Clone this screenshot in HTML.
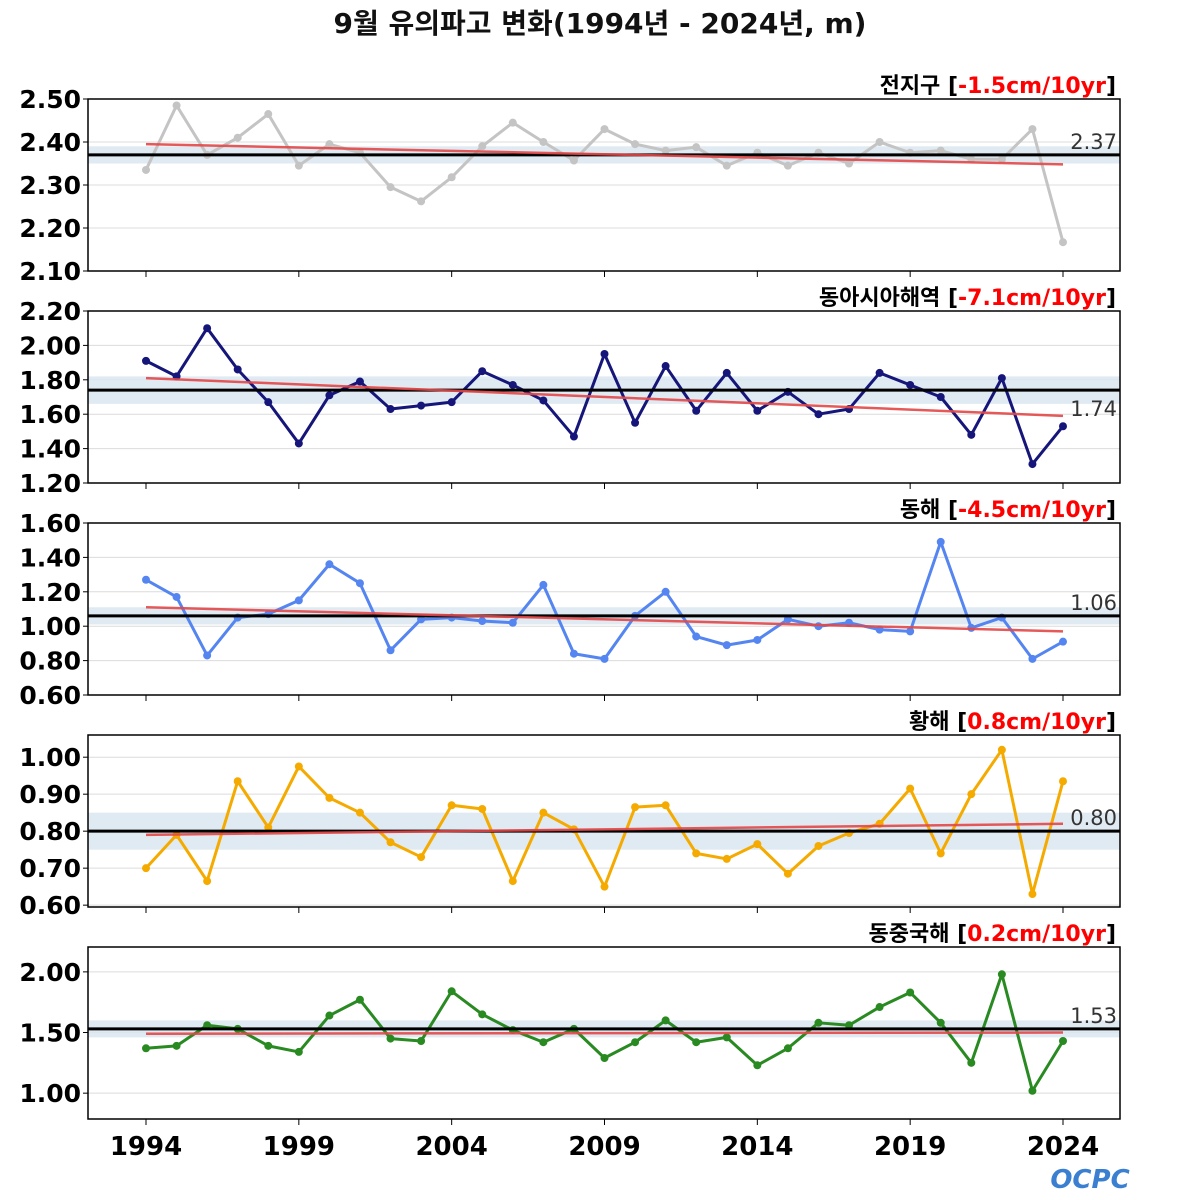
<!DOCTYPE html>
<html><head><meta charset="utf-8">
<style>
html,body{margin:0;padding:0;background:#fff;}
svg{display:block;font-family:"DejaVu Sans","Noto Sans CJK KR",sans-serif;}
</style></head>
<body>
<svg id="chart" width="1200" height="1200" viewBox="0 0 1200 1200">
<text x="600" y="33" text-anchor="middle" font-size="28" font-weight="bold" fill="#111">9월 유의파고 변화(1994년 - 2024년, m)</text>
<g id="panels"></g>
<g>
<text x="1090" y="1188" text-anchor="middle" font-size="26" font-weight="bold" fill="#3a7fd0" font-style="italic">OCPC</text>
</g>
</svg>
<script>
const years = [];
for (let y = 1994; y <= 2024; y++) years.push(y);
const xTickYears = [1994, 1999, 2004, 2009, 2014, 2019, 2024];

const globalValues = [2.335,2.485,2.37,2.41,2.465,2.345,2.395,2.375,2.295,2.262,2.318,2.39,2.445,2.40,2.357,2.43,2.395,2.38,2.388,2.345,2.375,2.345,2.375,2.35,2.40,2.375,2.38,2.36,2.36,2.43,2.167];
const eastAsiaValues = [1.91,1.82,2.10,1.86,1.67,1.43,1.71,1.79,1.63,1.65,1.67,1.85,1.77,1.68,1.47,1.95,1.55,1.88,1.62,1.84,1.62,1.73,1.60,1.63,1.84,1.77,1.70,1.48,1.81,1.31,1.53];
const eastSeaValues = [1.27,1.17,0.83,1.05,1.07,1.15,1.36,1.25,0.86,1.04,1.05,1.03,1.02,1.24,0.84,0.81,1.06,1.20,0.94,0.89,0.92,1.04,1.00,1.02,0.98,0.97,1.49,0.99,1.05,0.81,0.91];
const yellowSeaValues = [0.70,0.79,0.665,0.935,0.81,0.975,0.89,0.85,0.77,0.73,0.87,0.86,0.665,0.85,0.805,0.65,0.865,0.87,0.74,0.725,0.765,0.685,0.76,0.795,0.82,0.915,0.74,0.90,1.02,0.63,0.935];
const ecsValues = [1.37,1.39,1.56,1.53,1.39,1.34,1.64,1.77,1.45,1.43,1.84,1.65,1.52,1.42,1.53,1.29,1.42,1.60,1.42,1.46,1.23,1.37,1.58,1.56,1.71,1.83,1.58,1.25,1.98,1.02,1.43];

const panelNames = ["전지구","동아시아해역","동해","황해","동중국해"];
const panelTrends = ["-1.5cm/10yr","-7.1cm/10yr","-4.5cm/10yr","0.8cm/10yr","0.2cm/10yr"];
const panelMeans = [2.37,1.74,1.06,0.80,1.53];
const meanLabels = ["2.37","1.74","1.06","0.80","1.53"];
const bandHalf = [0.02,0.08,0.05,0.05,0.07];
const trendStart = [2.395,1.81,1.11,0.79,1.49];
const trendEnd = [2.348,1.59,0.97,0.82,1.50];
const yMins = [2.10,1.20,0.60,0.595,0.787];
const yMaxs = [2.50,2.20,1.60,1.06,2.205];
const yTicks0 = [2.10,2.20,2.30,2.40,2.50];
const yTicks1 = [1.20,1.40,1.60,1.80,2.00,2.20];
const yTicks2 = [0.60,0.80,1.00,1.20,1.40,1.60];
const yTicks3 = [0.60,0.70,0.80,0.90,1.00];
const yTicks4 = [1.00,1.50,2.00];

const series = [globalValues,eastAsiaValues,eastSeaValues,yellowSeaValues,ecsValues];
const ticks = [yTicks0,yTicks1,yTicks2,yTicks3,yTicks4];
const colors = ["#c4c4c4","#16167a","#5585f0","#f5aa00","#2a8a22"];
const keys = ["global","east-asia","east-sea","yellow-sea","east-china-sea"];
const labelBelow = [false,true,false,false,false];
const tops = [99,311,523,735,947];
const H = 172, L = 88, R = 1120;
const NS = "http://www.w3.org/2000/svg";
const xScale = yr => 146 + (yr - 1994) * (1063 - 146) / 30;

const root = document.getElementById("panels");
function mk(tag, attrs, parent) {
  const e = document.createElementNS(NS, tag);
  for (const k in attrs) e.setAttribute(k, attrs[k]);
  parent.appendChild(e);
  return e;
}

for (let p = 0; p < 5; p++) {
  const top = tops[p], bot = top + H;
  const yScale = v => bot - (v - yMins[p]) / (yMaxs[p] - yMins[p]) * H;
  const g = mk("g", {}, root);
  
  
  ticks[p].forEach(t => {
    const y = yScale(t);
    const gl = mk("line", {x1:L,x2:R,y1:y,y2:y,stroke:"#dcdcdc","stroke-width":1}, g);
    
    
    mk("line", {x1:L-5,x2:L,y1:y,y2:y,stroke:"#000","stroke-width":1}, g);
    const tx = mk("text", {x:81,y:y+9,"text-anchor":"end","font-size":25,"font-weight":"bold",fill:"#000"}, g);
    tx.textContent = t.toFixed(2);
    
    
  });
  xTickYears.forEach(yr => {
    const x = xScale(yr);
    mk("line", {x1:x,x2:x,y1:bot,y2:bot+6,stroke:"#000","stroke-width":1}, g);
  });
  const band = mk("rect", {x:L,width:R-L,y:yScale(panelMeans[p]+bandHalf[p]),height:yScale(panelMeans[p]-bandHalf[p])-yScale(panelMeans[p]+bandHalf[p]),fill:"#dbe6f0",opacity:0.85}, g);
  
  
  const pts = series[p].map((v,i) => xScale(years[i]) + "," + yScale(v)).join(" ");
  const pl = mk("polyline", {points:pts,fill:"none",stroke:colors[p],"stroke-width":3,"stroke-linejoin":"round"}, g);
  
  
  series[p].forEach((v,i) => {
    const c = mk("circle", {cx:xScale(years[i]),cy:yScale(v),r:4,fill:colors[p]}, g);
    
    
  });
  const ml = mk("line", {x1:L,x2:R,y1:yScale(panelMeans[p]),y2:yScale(panelMeans[p]),stroke:"#000","stroke-width":3}, g);
  
  
  const tl = mk("line", {x1:xScale(1994),x2:xScale(2024),y1:yScale(trendStart[p]),y2:yScale(trendEnd[p]),stroke:"#e44848","stroke-width":2.5,opacity:0.9}, g);
  
  
  const ly = labelBelow[p] ? yScale(panelMeans[p]) + 26 : yScale(panelMeans[p]) - 6;
  const mlab = mk("text", {x:1117,y:ly,"text-anchor":"end","font-size":21,fill:"#333"}, g);
  mlab.textContent = meanLabels[p];
  
  
  mk("rect", {x:L,y:top,width:R-L,height:H,fill:"none",stroke:"#000","stroke-width":1.5}, g);
  const tt = mk("text", {x:1116,y:top-6,"text-anchor":"end","font-size":22,"font-weight":"bold",fill:"#000"}, g);
  
  
  const s1 = mk("tspan", {}, tt); s1.textContent = panelNames[p] + " [";
  const s2 = mk("tspan", {fill:"#ff0000"}, tt); s2.textContent = panelTrends[p];
  const s3 = mk("tspan", {}, tt); s3.textContent = "]";
}
xTickYears.forEach(yr => {
  const t = mk("text", {x:xScale(yr),y:1155,"text-anchor":"middle","font-size":26,"font-weight":"bold",fill:"#000"}, root);
  t.textContent = yr;
  
  
});
</script>
</body></html>
